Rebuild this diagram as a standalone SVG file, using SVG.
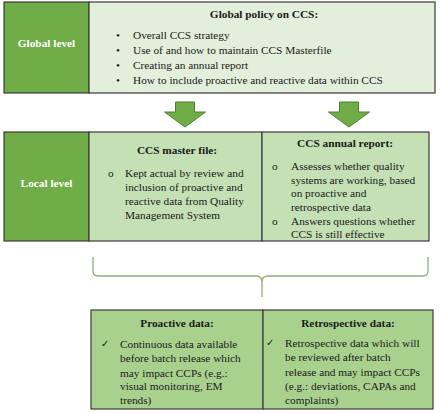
<svg xmlns="http://www.w3.org/2000/svg" width="440" height="413" viewBox="0 0 440 413">
<style>
.t{font-family:"Liberation Serif","Times New Roman",serif;font-size:11.3px;fill:#1a1a1a}
.b{font-weight:bold}
.w{fill:#ffffff;font-weight:bold;font-size:11.3px}
.m{text-anchor:middle}
.box{stroke:#3a3a3a;stroke-width:1.2}
.dk{fill:#70ad47}
.l1{fill:#e2efda}
.l2{fill:#c5e0b4}
.l3{fill:#a9d18e}
.arr{fill:#70ad47;stroke:#4f7d31;stroke-width:1}
.chk{font-family:"DejaVu Sans",sans-serif;font-size:10px;fill:#1a1a1a}
</style>
<rect width="440" height="413" fill="#ffffff"/>
<g id="global-level">
<rect class="box dk" x="4" y="2" width="85" height="91"/>
<text class="t w m" x="46.5" y="47">Global level</text>
</g>
<g id="global-policy">
<rect class="box l1" x="89" y="2" width="346" height="91"/>
<text class="t b m" x="264" y="18">Global policy on CCS:</text>
<text class="t" x="116" y="39">•</text><text class="t" x="133" y="39">Overall CCS strategy</text>
<text class="t" x="116" y="54">•</text><text class="t" x="133" y="54">Use of and how to maintain CCS Masterfile</text>
<text class="t" x="116" y="69">•</text><text class="t" x="133" y="69">Creating an annual report</text>
<text class="t" x="116" y="84">•</text><text class="t" x="133" y="84">How to include proactive and reactive data within CCS</text>
</g>
<g id="connectors">
<path class="arr" d="M175.5,102 H194.5 V112 H205.5 L185,127 L164.5,112 H175.5 Z"/>
<path class="arr" d="M339.5,102 H358.5 V112 H369.5 L349,127 L328.5,112 H339.5 Z"/>
<path d="M93,257 V271 Q93,276 98,276 H256 Q262,276 262,282 V297 M262,282 Q262,276 268,276 H423 Q428,276 428,271 V257" fill="none" stroke="#8fae78" stroke-width="1.3"/>
</g>
<g id="local-level">
<rect class="box dk" x="4" y="132" width="85" height="109"/>
<text class="t w m" x="46.5" y="187">Local level</text>
</g>
<g id="ccs-master-file">
<rect class="box l2" x="89" y="132" width="173" height="109"/>
<text class="t b m" x="177" y="154">CCS master file:</text>
<text class="t" x="108" y="177">o</text>
<text class="t" x="125" y="177">Kept actual by review and</text>
<text class="t" x="125" y="191">inclusion of proactive and</text>
<text class="t" x="125" y="205">reactive data from Quality</text>
<text class="t" x="125" y="219">Management System</text>
</g>
<g id="ccs-annual-report">
<rect class="box l2" x="262" y="132" width="167" height="109"/>
<text class="t b m" x="345" y="147">CCS annual report:</text>
<text class="t" x="272" y="170">o</text>
<text class="t" x="291" y="170">Assesses whether quality</text>
<text class="t" x="291" y="183.5">systems are working, based</text>
<text class="t" x="291" y="197">on proactive and</text>
<text class="t" x="291" y="210.5">retrospective data</text>
<text class="t" x="272" y="224.5">o</text>
<text class="t" x="291" y="224.5">Answers questions whether</text>
<text class="t" x="291" y="238">CCS is still effective</text>
</g>
<g id="proactive-data">
<rect class="box l3" x="91" y="310" width="172" height="99"/>
<text class="t b m" x="177" y="327">Proactive data:</text>
<text class="chk" x="101" y="347">✓</text>
<text class="t" x="120" y="348">Continuous data available</text>
<text class="t" x="120" y="362">before batch release which</text>
<text class="t" x="120" y="376.5">may impact CCPs (e.g.:</text>
<text class="t" x="120" y="390">visual monitoring, EM</text>
<text class="t" x="120" y="403.5">trends)</text>
</g>
<g id="retrospective-data">
<rect class="box l3" x="263" y="310" width="170" height="99"/>
<text class="t b m" x="348" y="327">Retrospective data:</text>
<text class="chk" x="266" y="346">✓</text>
<text class="t" x="285" y="347">Retrospective data which will</text>
<text class="t" x="285" y="361">be reviewed after batch</text>
<text class="t" x="285" y="375.5">release and may impact CCPs</text>
<text class="t" x="285" y="390">(e.g.: deviations, CAPAs and</text>
<text class="t" x="285" y="403.5">complaints)</text>
</g>
</svg>
